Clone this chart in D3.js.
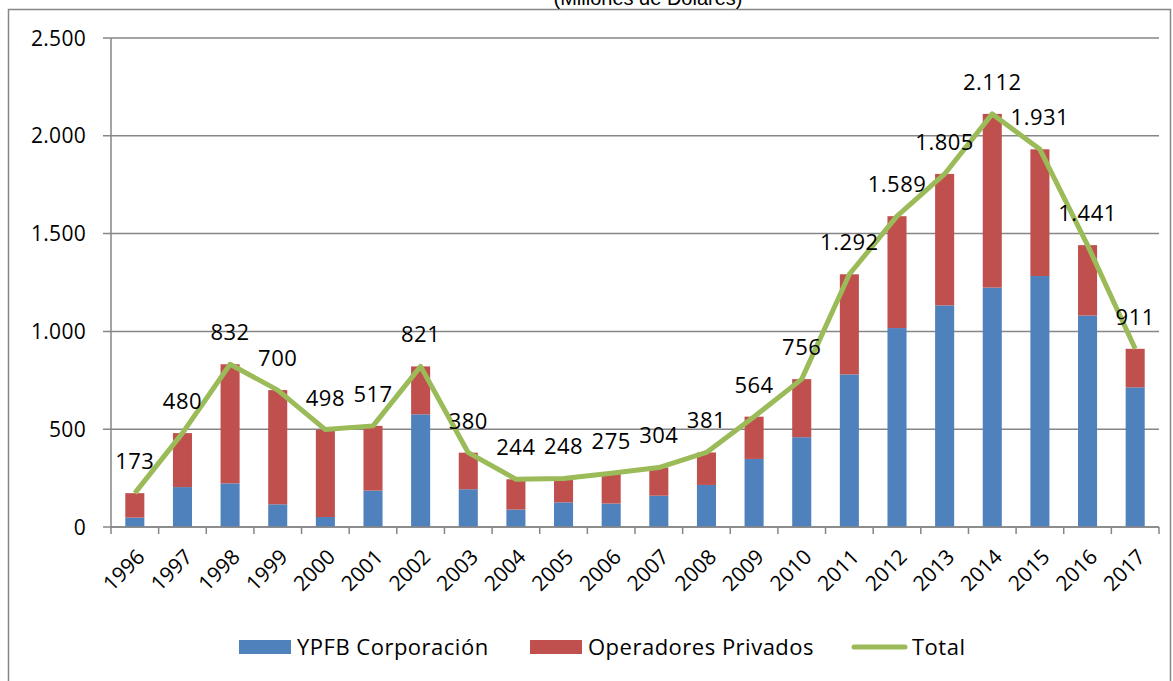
<!DOCTYPE html>
<html>
<head>
<meta charset="utf-8">
<script src="https://cdn.jsdelivr.net/npm/d3@7"></script>
<style>
  html, body { margin: 0; padding: 0; background: #fff; }
  svg { display: block; }
  text { font-family: "Open Sans", "Liberation Sans", sans-serif; fill: #000; }
</style>
</head>
<body>
<svg id="chart" width="1173" height="681"></svg>
<script>
// Inversión en hidrocarburos por año (millones de dólares)
const years = ["1996","1997","1998","1999","2000","2001","2002","2003","2004","2005","2006",
               "2007","2008","2009","2010","2011","2012","2013","2014","2015","2016","2017"];
const total = [173, 480, 832, 700, 498, 517, 821, 380, 244, 248, 275,
               304, 381, 564, 756, 1292, 1589, 1805, 2112, 1931, 1441, 911];
const ypfb  = [48, 204, 223, 116, 51, 186, 576, 193, 89, 126, 120,
               160, 215, 348, 459, 780, 1017, 1133, 1224, 1283, 1081, 714];
const privados = total.map((t, i) => t - ypfb[i]);
const yTicks = [0, 500, 1000, 1500, 2000, 2500];
const seriesNames = ["YPFB Corporación", "Operadores Privados", "Total"];
const colors = { ypfb: "#4F81BD", priv: "#C0504D", total: "#9BBB59" };

const fmt = v => d3.format(",")(v).replace(/,/g, ".");

const svg = d3.select("#chart");
const plotLeft = 111, plotRight = 1159, plotTop = 38, plotBottom = 527;

const x = d3.scaleBand().domain(years).range([plotLeft, plotRight])
  .paddingInner(0.6).paddingOuter(0.3);
const y = d3.scaleLinear().domain([0, 2500]).range([plotBottom, plotTop]);
const cx = d => x(d) + x.bandwidth() / 2;

// outer frame
svg.append("rect")
  .attr("x", 8.5).attr("y", 9.5).attr("width", 1162).attr("height", 700)
  .attr("fill", "none").attr("stroke", "#868686").attr("stroke-width", 1.5);

// title (its upper part runs past the top edge)
svg.append("text")
  .attr("x", 648).attr("y", 5)
  .attr("text-anchor", "middle")
  .style("font-family", "'Liberation Sans', Arial, sans-serif")
  .style("font-size", "20px")
  .text("(Millones de Dólares)");

// horizontal gridlines with left tick stubs
svg.append("g").selectAll("line").data(yTicks).join("line")
  .attr("x1", 103).attr("x2", plotRight)
  .attr("y1", d => y(d)).attr("y2", d => y(d))
  .attr("stroke", "#868686").attr("stroke-width", 1.5);

// y-axis labels
svg.append("g").selectAll("text").data(yTicks).join("text")
  .attr("x", 86).attr("y", d => y(d))
  .attr("dy", "0.36em")
  .attr("text-anchor", "end")
  .style("font-size", "21px")
  .style("letter-spacing", "0.3px")
  .text(d => fmt(d));

// stacked bars
const stackData = years.map((yr, i) => ({ year: yr, ypfb: ypfb[i], priv: privados[i] }));
const stacked = d3.stack().keys(["ypfb", "priv"])(stackData);
svg.append("g").selectAll("g").data(stacked).join("g")
  .attr("fill", s => colors[s.key])
  .selectAll("rect").data(s => s).join("rect")
  .attr("x", d => x(d.data.year))
  .attr("width", x.bandwidth())
  .attr("y", d => y(d[1]))
  .attr("height", d => y(d[0]) - y(d[1]));

// y axis line
svg.append("line")
  .attr("x1", plotLeft).attr("x2", plotLeft).attr("y1", plotTop).attr("y2", plotBottom)
  .attr("stroke", "#868686").attr("stroke-width", 1.5);

// x axis line and ticks at category boundaries
svg.append("line")
  .attr("x1", plotLeft).attr("x2", plotRight).attr("y1", plotBottom).attr("y2", plotBottom)
  .attr("stroke", "#868686").attr("stroke-width", 1.5);
const tickXs = years.map((d, i) => plotLeft + i * x.step()).concat([plotRight]);
svg.append("g").selectAll("line").data(tickXs).join("line")
  .attr("x1", d => d).attr("x2", d => d)
  .attr("y1", plotBottom).attr("y2", plotBottom + 7)
  .attr("stroke", "#868686").attr("stroke-width", 1.5);

// rotated year labels
svg.append("g").selectAll("text").data(years).join("text")
  .attr("transform", d => `translate(${cx(d) + 6},${plotBottom + 26}) rotate(-45)`)
  .attr("text-anchor", "end")
  .attr("dy", "0.35em")
  .style("font-size", "21px")
  .text(d => d);

// total line
const line = d3.line().x((d, i) => cx(years[i])).y(d => y(d));
svg.append("path")
  .datum(total)
  .attr("d", line)
  .attr("fill", "none")
  .attr("stroke", colors.total)
  .attr("stroke-width", 5)
  .attr("stroke-linejoin", "round");

// value labels above the total line
svg.append("g").selectAll("text").data(total).join("text")
  .attr("x", (d, i) => cx(years[i]))
  .attr("y", d => y(d) - 32)
  .attr("dy", "0.36em")
  .attr("text-anchor", "middle")
  .style("font-size", "22px")
  .style("letter-spacing", "0.5px")
  .text(d => fmt(d));

// legend
const lg = svg.append("g").style("font-size", "22px").style("letter-spacing", "0.5px");
lg.append("rect").attr("x", 239).attr("y", 640).attr("width", 52).attr("height", 14).attr("fill", colors.ypfb);
lg.append("text").attr("x", 297).attr("y", 647).attr("dy", "0.36em").text(seriesNames[0]);
lg.append("rect").attr("x", 530).attr("y", 640).attr("width", 52).attr("height", 14).attr("fill", colors.priv);
lg.append("text").attr("x", 588).attr("y", 647).attr("dy", "0.36em").text(seriesNames[1]);
lg.append("line").attr("x1", 854).attr("x2", 905).attr("y1", 647).attr("y2", 647)
  .attr("stroke", colors.total).attr("stroke-width", 5).attr("stroke-linecap", "round");
lg.append("text").attr("x", 912).attr("y", 647).attr("dy", "0.36em").text(seriesNames[2]);
</script>
</body>
</html>
